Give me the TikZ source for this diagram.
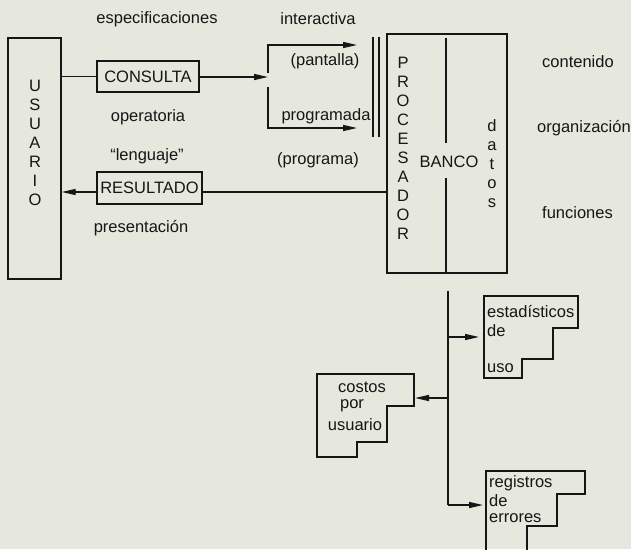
\documentclass[tikz,border=0pt]{standalone}
\usepackage{fontspec}
\setmainfont{Liberation Sans}
\usetikzlibrary{arrows.meta,calc}
\definecolor{paper}{RGB}{230,231,221}
\definecolor{ink}{RGB}{22,22,22}
\begin{document}
\begin{tikzpicture}[x=1pt,y=-1pt,
  every node/.style={font=\fontsize{16.5}{19}\selectfont, text=ink, inner sep=0pt},
  line/.style={draw=ink, line width=1.4pt},
  frame/.style={line, rectangle},
  arrow/.style={line, -{Triangle[length=14pt,width=6pt]}},
  lbl/.style={anchor=center},
  lbw/.style={anchor=west}]
\useasboundingbox (0,0) rectangle (631,549);
\fill[paper] (0,0) rectangle (631,549);
\clip (0,0) rectangle (631,549);

% main boxes
\node[frame, minimum width=53pt, minimum height=241pt] (usuario) at (34.5,158.5) {};
\node[align=center] (usuariotxt) at (35,143) {U\\S\\U\\A\\R\\I\\O};
\node[frame, minimum width=102pt, minimum height=31pt] (consulta) at (148,76.5) {CONSULTA};
\node[frame, minimum width=105pt, minimum height=32pt] (resultado) at (149.5,188) {RESULTADO};
\node[frame, minimum width=120pt, minimum height=239pt] (proc) at (447,153.5) {};
\node[align=center] (proctxt) at (403,148) {P\\R\\O\\C\\E\\S\\A\\D\\O\\R};
\node (banco) at (449,162) {BANCO};
\node[align=center] (datos) at (492,163.5) {d\\a\\t\\o\\s};

% inner divider of the processor / bank box
\coordinate (divA) at (446,38);
\coordinate (divB) at (446,143);
\coordinate (divC) at (446,178);
\draw[line] (divA) -- (divB);
\draw[line] (divC) -- (proc.south -| divC);

% double bar
\coordinate (barAt) at (373,37); \coordinate (barAb) at (373,137);
\coordinate (barBt) at (379,37); \coordinate (barBb) at (379,137);
\draw[line] (barAt) -- (barAb);
\draw[line] (barBt) -- (barBb);

% labels
\node[lbl] (espec) at (157,19) {especificaciones};
\node[lbl] (inter) at (318,19) {interactiva};
\node[lbl] (pant) at (325,61) {(pantalla)};
\node[lbl] (progda) at (326,116) {programada};
\node[lbl] (progma) at (318,160) {(programa)};
\node[lbl] (operat) at (148,117) {operatoria};
\node[lbl] (leng) at (147,156) {“lenguaje”};
\node[lbl] (present) at (141,228) {presentación};
\node[lbw] (conten) at (542,62) {contenido};
\node[lbw] (organ) at (537,128) {organización};
\node[lbw] (funcion) at (542,213) {funciones};

% consulta flow
\draw[line] (usuario.east |- consulta.west) -- (consulta.west);
\coordinate (split) at (268,77);
\draw[arrow] (consulta.east |- split) -- (split);
\coordinate (itop) at (268,45);
\coordinate (iend) at (357,45);
\coordinate (pbot) at (268,128);
\coordinate (pend) at (357,128);
\draw[arrow] ([yshift=4pt]split) -- (itop) -- (iend);
\draw[arrow] ([yshift=-10pt]split) -- (pbot) -- (pend);

% resultado flow
\coordinate (ry) at (0,192);
\draw[line] (proc.west |- ry) -- (resultado.east |- ry);
\draw[arrow] (resultado.west |- ry) -- (usuario.east |- ry);

% distribution below
\coordinate (vtop) at (448,291);
\coordinate (vbot) at (448,505);
\draw[line] (vtop) -- (vbot);
\coordinate (estadin) at (479,337);
\coordinate (costin) at (415,398);
\coordinate (regin) at (483,505);
\draw[arrow] (vtop |- estadin) -- (estadin);
\draw[arrow] (vtop |- costin) -- (costin);
\draw[arrow] (vbot) -- (regin);

% staircase boxes
\draw[line] (484,296) -- (578,296) -- (578,328) -- (553,328) -- (553,359) -- (522,359) -- (522,378) -- (484,378) -- cycle;
\node[lbw] (est1) at (487,311) {estadísticos};
\node[lbw] (est2) at (487,331) {de};
\node[lbw] (est3) at (487,368) {uso};

\draw[line] (317,374) -- (414,374) -- (414,406) -- (387,406) -- (387,442) -- (357,442) -- (357,457) -- (317,457) -- cycle;
\node[lbl] (cos1) at (362,387) {costos};
\node[lbl] (cos2) at (352,406) {por};
\node[lbl] (cos3) at (355,425) {usuario};

\draw[line] (486,471) -- (585,471) -- (585,494) -- (557,494) -- (557,526) -- (527,526) -- (527,560) -- (486,560) -- cycle;
\node[lbw] (reg1) at (489,483) {registros};
\node[lbw] (reg2) at (489,501) {de};
\node[lbw] (reg3) at (489,518) {errores};
\end{tikzpicture}
\end{document}
